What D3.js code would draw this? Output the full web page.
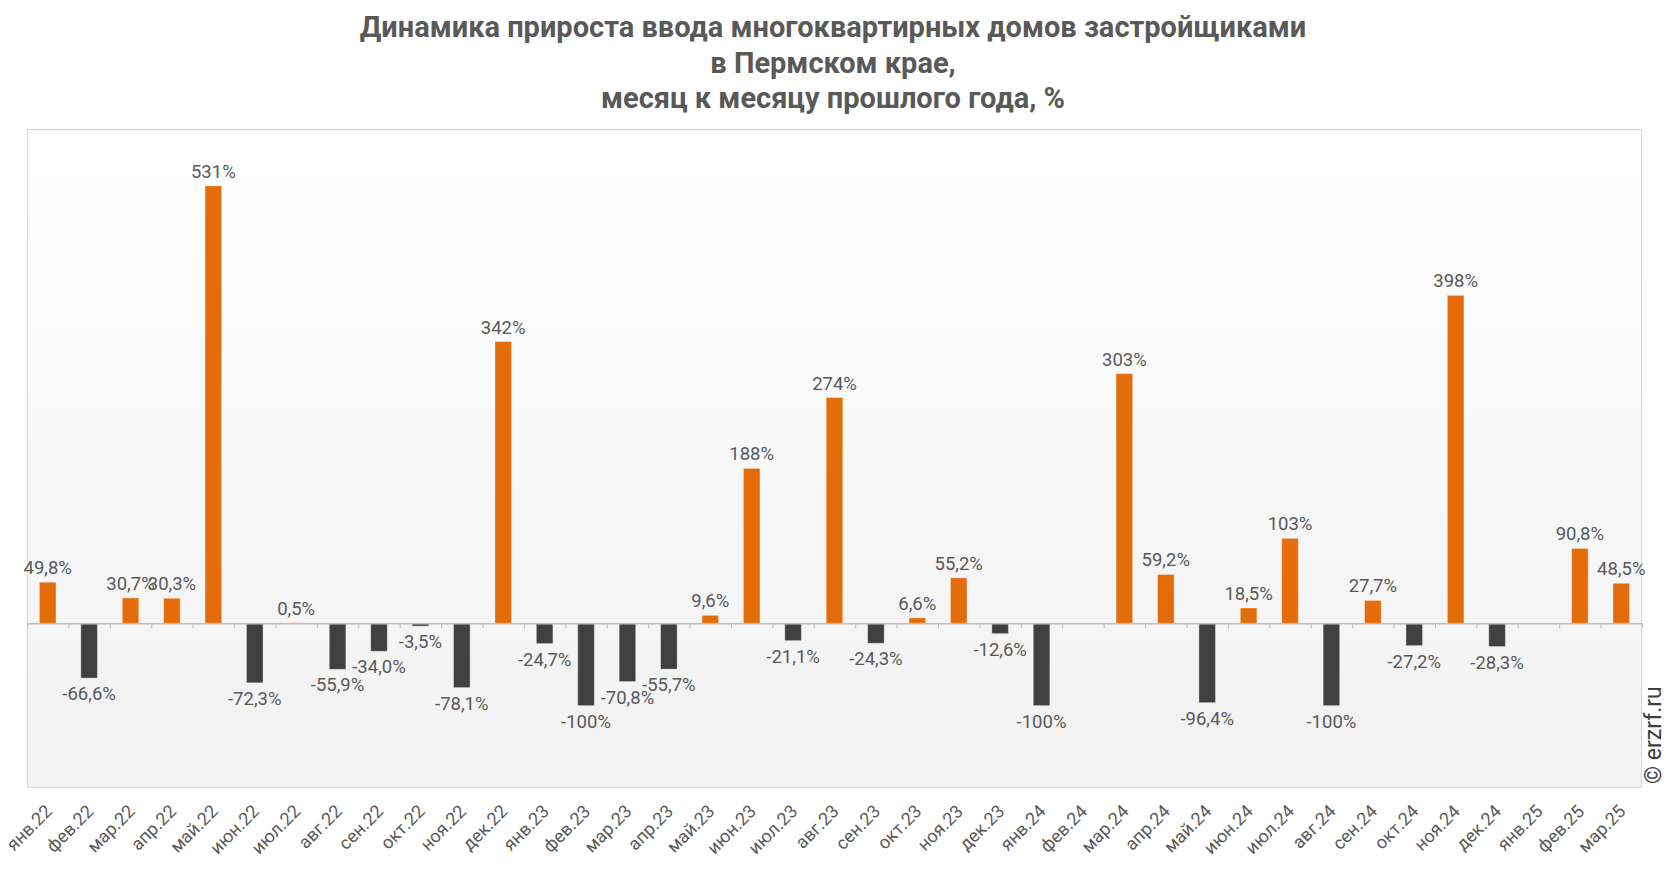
<!DOCTYPE html>
<html lang="ru">
<head>
<meta charset="UTF-8">
<title>Динамика прироста ввода многоквартирных домов</title>
<script src="https://d3js.org/d3.v7.min.js" charset="utf-8"></script>
<style>
    body, html {
        margin: 0;
        padding: 0;
        background: #ffffff;
        overflow: hidden;
    }
    text {
        font-family: Roboto, "Noto Sans", sans-serif;
    }
</style>
</head>
<body>
<svg id="chart"></svg>
<script>
    // SVG size
    const width = 1666;
    const height = 872;

    // data
    const months = [
        'янв.22', 'фев.22', 'мар.22', 'апр.22', 'май.22', 'июн.22', 'июл.22', 'авг.22', 'сен.22', 'окт.22', 'ноя.22', 'дек.22',
        'янв.23', 'фев.23', 'мар.23', 'апр.23', 'май.23', 'июн.23', 'июл.23', 'авг.23', 'сен.23', 'окт.23', 'ноя.23', 'дек.23',
        'янв.24', 'фев.24', 'мар.24', 'апр.24', 'май.24', 'июн.24', 'июл.24', 'авг.24', 'сен.24', 'окт.24', 'ноя.24', 'дек.24',
        'янв.25', 'фев.25', 'мар.25'
    ];
    const growth = [
        49.8, -66.6, 30.7, 30.3, 531, -72.3, 0.5, -55.9, -34.0, -3.5, -78.1, 342,
        -24.7, -100, -70.8, -55.7, 9.6, 188, -21.1, 274, -24.3, 6.6, 55.2, -12.6,
        -100, null, 303, 59.2, -96.4, 18.5, 103, -100, 27.7, -27.2, 398, -28.3,
        null, 90.8, 48.5
    ];
    const titleLines = [
        'Динамика прироста ввода многоквартирных домов застройщиками',
        'в Пермском крае,',
        'месяц к месяцу прошлого года, %'
    ];

    const data = months.map((m, i) => ({ month: m, value: growth[i] }));

    const plot = { left: 27, right: 1642, top: 129, bottom: 788 };

    const svg = d3.select('#chart')
        .attr('width', width)
        .attr('height', height);

    // background gradient of the plot area
    const grad = svg.append('defs').append('linearGradient')
        .attr('id', 'bg')
        .attr('x1', 0).attr('y1', 0).attr('x2', 0).attr('y2', 1);
    grad.append('stop').attr('offset', '0%').attr('stop-color', '#ffffff');
    grad.append('stop').attr('offset', '100%').attr('stop-color', '#f1f1f1');

    svg.append('rect')
        .attr('x', plot.left + 0.5)
        .attr('y', plot.top + 0.5)
        .attr('width', plot.right - plot.left - 1)
        .attr('height', plot.bottom - plot.top - 1)
        .style('fill', 'url(#bg)')
        .style('stroke', '#d9d9d9')
        .style('stroke-width', 1);

    // title
    svg.append('g')
        .selectAll('text')
        .data(titleLines)
        .join('text')
        .attr('x', 833)
        .attr('y', (d, i) => 37 + i * 35.5)
        .attr('text-anchor', 'middle')
        .style('font-size', '29px')
        .style('font-weight', 'bold')
        .style('fill', '#595959')
        .text(d => d);

    // scales
    const xScale = d3.scaleBand()
        .domain(months)
        .range([plot.left, plot.right])
        .padding(0);

    const xBar = xScale.copy()
        .paddingInner(0.6)
        .paddingOuter(0.3);

    const yScale = d3.scaleLinear()
        .domain([-200, 600])
        .range([plot.bottom, plot.top]);

    // bars
    svg.append('g')
        .selectAll('rect')
        .data(data.filter(d => d.value !== null))
        .join('rect')
        .attr('x', d => xBar(d.month))
        .attr('width', xBar.bandwidth())
        .attr('y', d => yScale(Math.max(0, d.value)))
        .attr('height', d => Math.abs(yScale(d.value) - yScale(0)))
        .style('fill', d => d.value >= 0 ? '#e46c0a' : '#404040')
        .style('stroke', 'rgba(255,255,255,0.35)')
        .style('stroke-width', 1);

    // zero line with ticks between months
    const xEdges = d3.scaleLinear()
        .domain([0, months.length])
        .range([plot.left, plot.right]);

    const zeroAxis = svg.append('g')
        .attr('transform', `translate(0,${yScale(0)})`)
        .call(d3.axisBottom(xEdges)
            .tickValues(d3.range(months.length + 1))
            .tickFormat('')
            .tickSizeInner(5)
            .tickSizeOuter(0));
    zeroAxis.select('.domain').style('stroke', '#bfbfbf').style('stroke-width', 1.5);
    zeroAxis.selectAll('.tick line').style('stroke', '#bfbfbf');

    // value labels
    function fmt(v) {
        const s = Math.abs(v) >= 100 ? d3.format('.0f')(v) : d3.format('.1f')(v);
        return s.replace('.', ',').replace('−', '-') + '%';
    }

    svg.append('g')
        .selectAll('text')
        .data(data.filter(d => d.value !== null))
        .join('text')
        .attr('x', d => xScale(d.month) + xScale.bandwidth() / 2)
        .attr('y', d => d.value >= 0 ? yScale(d.value) - 8 : yScale(d.value) + 22)
        .attr('text-anchor', 'middle')
        .style('font-size', '18.5px')
        .style('fill', '#595959')
        .text(d => fmt(d.value));

    // month labels
    const xAxis = svg.append('g')
        .attr('transform', `translate(0,${plot.bottom})`)
        .call(d3.axisBottom(xScale).tickSize(0));
    xAxis.select('.domain').remove();
    xAxis.selectAll('.tick text')
        .attr('x', 0)
        .attr('y', 0)
        .attr('dy', '0.35em')
        .attr('transform', 'translate(1,20) rotate(-45)')
        .attr('text-anchor', 'end')
        .style('font-family', 'Roboto, sans-serif')
        .style('font-size', '18px')
        .style('fill', '#595959');

    // watermark
    svg.append('text')
        .attr('transform', 'translate(1661,784) rotate(-90)')
        .style('font-size', '23px')
        .style('fill', '#404040')
        .text('© erzrf.ru');
</script>
</body>
</html>
